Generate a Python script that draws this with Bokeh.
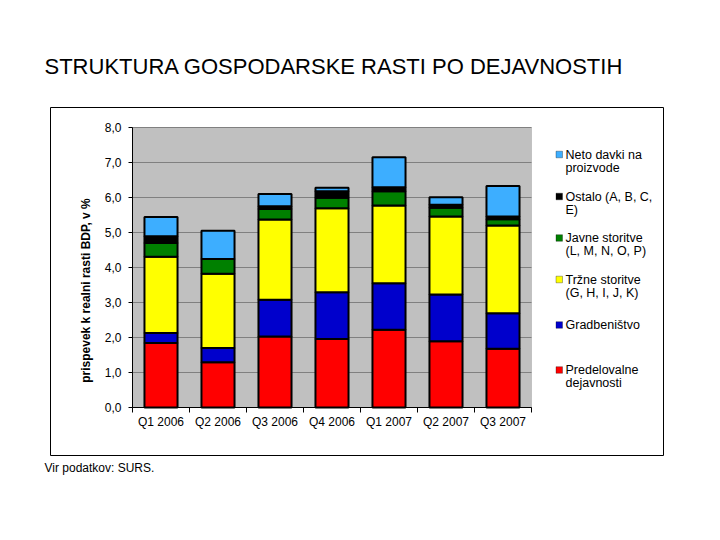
import math
from bokeh.plotting import figure
from bokeh.models import Range1d, FixedTicker, Label, BoxAnnotation, ColumnDataSource, Title
from bokeh.embed import file_html
from bokeh.resources import INLINE

# ---- data ----
categories = ["Q1 2006", "Q2 2006", "Q3 2006", "Q4 2006", "Q1 2007", "Q2 2007", "Q3 2007"]
predelovalne = [1.84, 1.29, 2.03, 1.96, 2.22, 1.89, 1.68]
gradbenistvo = [0.29, 0.41, 1.05, 1.33, 1.33, 1.34, 1.01]
trzne = [2.18, 2.12, 2.29, 2.40, 2.22, 2.23, 2.51]
javne = [0.39, 0.42, 0.30, 0.30, 0.41, 0.25, 0.18]
ostalo = [0.19, 0.00, 0.08, 0.19, 0.11, 0.08, 0.08]
neto_davki = [0.55, 0.81, 0.35, 0.10, 0.86, 0.22, 0.87]
y_ticks = [0, 1, 2, 3, 4, 5, 6, 7, 8]
y_tick_labels = ["0,0", "1,0", "2,0", "3,0", "4,0", "5,0", "6,0", "7,0", "8,0"]

series_keys = ["pred", "grad", "trz", "jav", "ost", "neto"]
series_names = ["Predelovalne\ndejavnosti", "Gradbeništvo", "Tržne storitve\n(G, H, I, J, K)",
                "Javne storitve\n(L, M, N, O, P)", "Ostalo (A, B, C,\nE)", "Neto davki na\nproizvode"]
colors = ["#FF0000", "#0000CC", "#FFFF00", "#008000", "#000000", "#3DAEFF"]

FONT = "Liberation Sans"
N = len(categories)
YMAX = y_ticks[-1]

# plot area (grey) in canvas px, outer chart box in canvas px
PL, PT, PR, PB = 132, 127, 531, 407
BL, BT, BR, BB = 50, 107, 663, 455
sx = (PR - PL) / N
sy = (PB - PT) / YMAX
def px2x(X):
    return (X - PL) / sx
def px2y(Y):
    return (PB - Y) / sy

W, H = 680, 490
p = figure(width=W, height=H, output_backend="svg", toolbar_location=None, title=None,
           x_range=Range1d(px2x(BL), px2x(BR)), y_range=Range1d(px2y(BB), px2y(BT)),
           min_border_left=BL, min_border_top=BT,
           min_border_right=W - BR, min_border_bottom=H - BB)
p.background_fill_color = "white"
p.border_fill_color = "white"
p.outline_line_color = "black"
p.outline_line_width = 1
p.xgrid.visible = False
p.ygrid.visible = False

# grey plot area
p.add_layout(BoxAnnotation(left=0, right=N, bottom=0, top=YMAX, fill_color="#C0C0C0",
                           fill_alpha=1, line_color="#808080", line_width=1, level="image"))
# horizontal grid lines
p.segment(x0=[0] * len(y_ticks), x1=[N] * len(y_ticks), y0=y_ticks, y1=y_ticks,
          line_color="#808080", line_width=1, level="underlay")

xs = [i + 0.5 for i in range(N)]
src = ColumnDataSource(dict(x=xs, pred=predelovalne, grad=gradbenistvo, trz=trzne,
                            jav=javne, ost=ostalo, neto=neto_davki))
p.vbar_stack(series_keys, x="x", width=0.58, source=src, color=colors,
             line_color="black", line_width=2)

# axes
p.yaxis.fixed_location = 0
p.yaxis.bounds = (0, YMAX)
p.yaxis.ticker = FixedTicker(ticks=y_ticks)
p.yaxis.major_label_overrides = {t: l for t, l in zip(y_ticks, y_tick_labels)}
p.yaxis.major_tick_out = 4
p.yaxis.major_tick_in = 0
p.yaxis.minor_tick_out = 0
p.yaxis.minor_tick_in = 0
p.yaxis.major_label_standoff = 7
p.yaxis.axis_line_color = "black"
p.yaxis.major_tick_line_color = "black"
p.yaxis.major_label_text_font = FONT
p.yaxis.major_label_text_font_size = "12px"
p.yaxis.major_label_text_color = "black"

p.xaxis.fixed_location = 0
p.xaxis.bounds = (0, N)
p.xaxis.ticker = FixedTicker(ticks=xs, minor_ticks=list(range(N + 1)))
p.xaxis.major_label_overrides = {x: c for x, c in zip(xs, categories)}
p.xaxis.major_tick_out = 0
p.xaxis.major_tick_in = 0
p.xaxis.minor_tick_out = 5
p.xaxis.minor_tick_in = 0
p.xaxis.minor_tick_line_color = "black"
p.xaxis.axis_line_color = "black"
p.xaxis.major_label_standoff = 2
p.xaxis.major_label_text_font = FONT
p.xaxis.major_label_text_font_size = "12px"
p.xaxis.major_label_text_color = "black"

# title and source note
p.add_layout(Title(text="STRUKTURA GOSPODARSKE RASTI PO DEJAVNOSTIH", align="left",
                   offset=-6, standoff=58, text_font=FONT, text_font_size="22px",
                   text_font_style="normal", text_color="black"), "above")
p.add_layout(Title(text="Vir podatkov: SURS.", align="left", offset=-6, standoff=6,
                   text_font=FONT, text_font_size="12px", text_font_style="normal",
                   text_color="black"), "below")

# y axis title
p.add_layout(Label(x=px2x(85), y=px2y(290), text="prispevek k realni rasti BDP, v %",
                   angle=math.pi / 2, text_font=FONT, text_font_size="12px",
                   text_font_style="bold", text_color="black",
                   text_baseline="middle", text_align="center"))

# legend
leg_y = [369.5, 324.5, 279.0, 237.5, 196.0, 154.0]
for name, col, yc in zip(series_names, colors, leg_y):
    p.add_layout(BoxAnnotation(left=px2x(555.5), right=px2x(562), top=px2y(yc - 3.3),
                               bottom=px2y(yc + 3.3), fill_color=col, fill_alpha=1,
                               line_color="black", line_width=1))
    for k, ln in enumerate(name.split("\n")):
        p.add_layout(Label(x=px2x(565), y=px2y(yc + 13 * k), text=ln,
                           text_font=FONT, text_font_size="12.5px", text_color="black",
                           text_baseline="middle", text_align="left"))

open("out.html", "w").write(file_html(p, INLINE))
